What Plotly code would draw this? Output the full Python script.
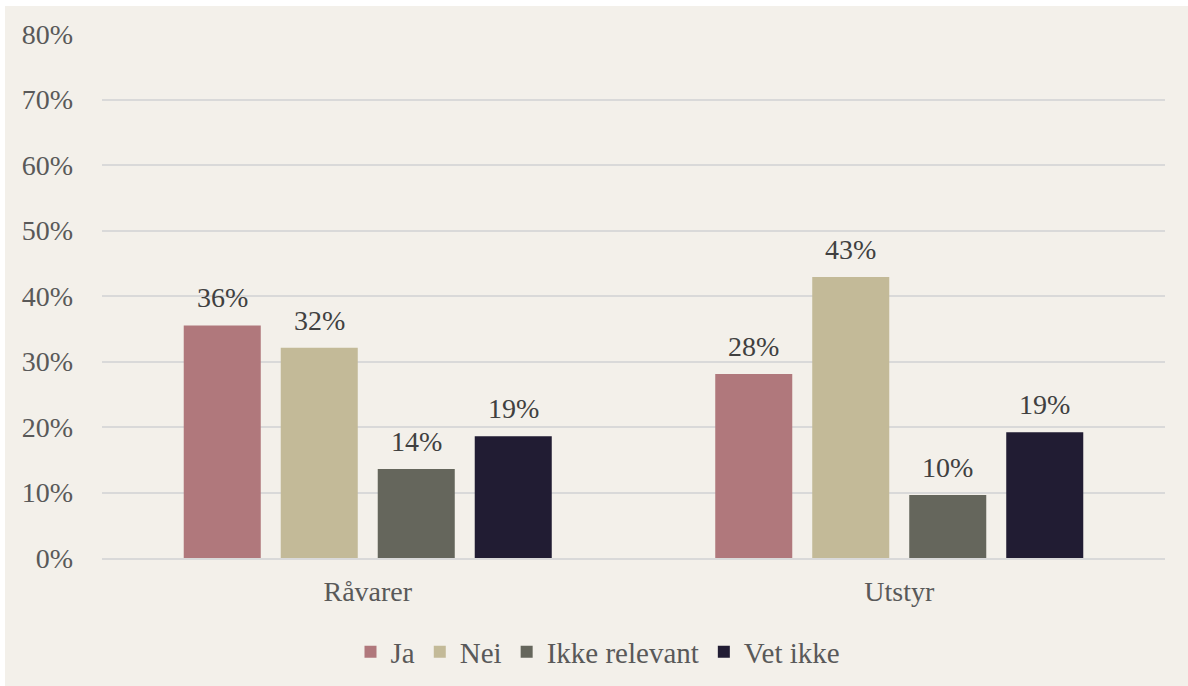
import plotly.graph_objects as go

categories = ["Råvarer", "Utstyr"]
series_names = ["Ja", "Nei", "Ikke relevant", "Vet ikke"]
series_values = {
    "Ja": [0.355, 0.281],
    "Nei": [0.321, 0.429],
    "Ikke relevant": [0.136, 0.096],
    "Vet ikke": [0.186, 0.192],
}
series_colors = {
    "Ja": "#B0787C",
    "Nei": "#C3BA98",
    "Ikke relevant": "#65665C",
    "Vet ikke": "#211C33",
}
y_ticks = [0, 0.1, 0.2, 0.3, 0.4, 0.5, 0.6, 0.7, 0.8]

FONT = "'Liberation Serif'"
BG = "#F3F0EA"
FS = 28

# page: body offset 5px left, 6px top; figure fills the rest of the 1188x686 window
OX, OY = 5, 6
W, H = 1188 - OX, 686 - OY
L, T = 102 - OX, 34 - OY
plot_right, plot_bottom = 1165 - OX, 558 - OY
R, B = W - plot_right, H - plot_bottom
pw, ph = plot_right - L, plot_bottom - T

bargap = 0.27
bargroupgap = 0.206

fig = go.Figure()
n = len(series_names)
slot = (1 - bargap) / n
annotations = []
for i, name in enumerate(series_names):
    vals = series_values[name]
    fig.add_trace(go.Bar(
        name=name, x=categories, y=vals,
        marker=dict(color=series_colors[name], line=dict(width=0)),
        hoverinfo="skip",
    ))
    off = (i - (n - 1) / 2) * slot
    for ci, v in enumerate(vals):
        annotations.append(dict(
            x=ci + off, y=v, xref="x", yref="y",
            text=f"{round(v * 100):.0f}%", showarrow=False,
            yanchor="bottom", xanchor="center", yshift=10,
            font=dict(family=FONT, size=FS, color="#404040"),
        ))

fig.update_layout(
    width=W, height=H,
    margin=dict(l=L, r=R, t=T, b=B, autoexpand=False),
    paper_bgcolor=BG, plot_bgcolor=BG,
    barmode="group", bargap=bargap, bargroupgap=bargroupgap,
    font=dict(family=FONT, size=FS, color="#595959"),
    showlegend=True,
    legend=dict(
        orientation="h", x=(598 - OX - L) / pw, xanchor="center",
        y=(plot_bottom - (652 - OY)) / ph, yanchor="middle",
        font=dict(family=FONT, size=29, color="#595959"),
        bgcolor="rgba(0,0,0,0)", itemwidth=30, traceorder="normal",
    ),
    annotations=annotations,
    xaxis=dict(
        type="category", showgrid=False, zeroline=False,
        showline=True, linecolor="#D9D9D9", linewidth=1.5,
        ticks="", tickfont=dict(family=FONT, size=FS, color="#595959"),
        ticklabelstandoff=8,
    ),
    yaxis=dict(
        range=[0, 0.8], tickvals=y_ticks, tickformat=".0%",
        showgrid=True, gridcolor="#D9D9D9", gridwidth=1.5,
        zeroline=False, showline=False, ticks="",
        tickfont=dict(family=FONT, size=FS, color="#595959"),
        ticklabelstandoff=28,
    ),
)

fig.write_html(
    "out.html",
    post_script=(
        "document.body.style.margin='%dpx 0 0 %dpx';"
        "document.body.style.overflow='hidden';" % (OY, OX)
    ),
)
